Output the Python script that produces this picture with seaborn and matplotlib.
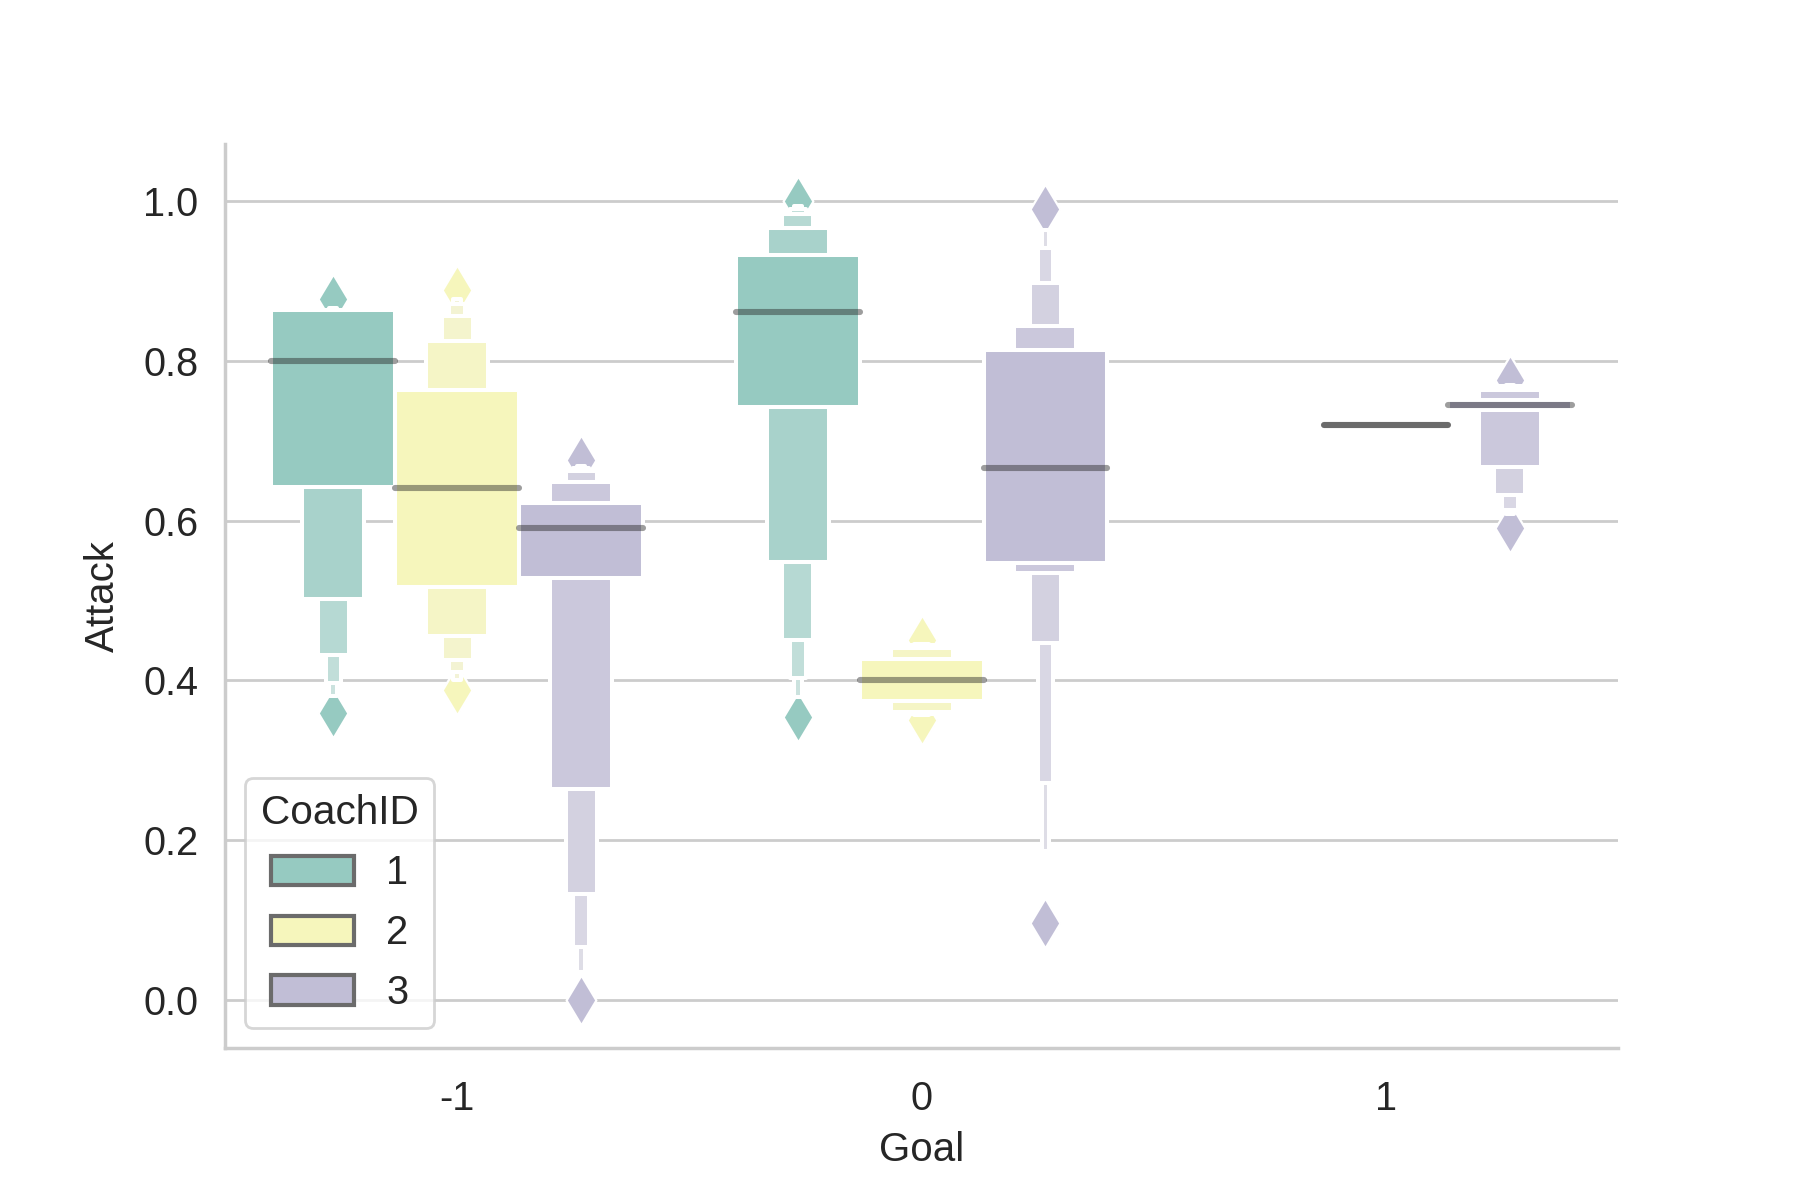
import numpy as np
import pandas as pd
import matplotlib
matplotlib.use("Agg")
import matplotlib.pyplot as plt
import seaborn as sns
from matplotlib.collections import PathCollection

# ---------------- data ----------------
goal_levels = ["-1", "0", "1"]
coach_levels = ["1", "2", "3"]

# Each sample holds 65 observations; rank_counts says how many observations
# share each listed Attack value (sorted from lowest to highest).
rank_counts = [1, 1, 2, 4, 8, 16, 1, 16, 8, 4, 2, 1, 1]

attack_m1_c1 = [0.359, 0.380, 0.397, 0.432, 0.502, 0.642, 0.800,
                0.8636, 0.8637, 0.8638, 0.864, 0.866, 0.878]
attack_m1_c2 = [0.388, 0.400, 0.410, 0.426, 0.456, 0.517, 0.641,
                0.764, 0.825, 0.856, 0.871, 0.878, 0.889]
attack_m1_c3 = [0.000, 0.035, 0.066, 0.133, 0.2645, 0.5285, 0.591,
                0.6225, 0.6485, 0.662, 0.666, 0.668, 0.676]
attack_0_c1 = [0.3546, 0.379, 0.403, 0.451, 0.5486, 0.7424, 0.861,
               0.9327, 0.9663, 0.984, 0.990, 0.994, 1.000]
attack_0_c2 = [0.351, 0.3565, 0.357, 0.358, 0.3605, 0.3745, 0.401,
               0.427, 0.441, 0.444, 0.445, 0.446, 0.451]
attack_0_c3 = [0.0956, 0.186, 0.272, 0.447, 0.5345, 0.5475, 0.6664,
               0.8135, 0.844, 0.8975, 0.942, 0.964, 0.990]
attack_p1_c2 = [0.720]  # a single observation
attack_p1_c3 = [0.5915, 0.609, 0.614, 0.6325, 0.667, 0.739, 0.745,
                0.751, 0.7635, 0.7685, 0.769, 0.770, 0.776]

groups = [
    ("-1", "1", attack_m1_c1), ("-1", "2", attack_m1_c2), ("-1", "3", attack_m1_c3),
    ("0", "1", attack_0_c1), ("0", "2", attack_0_c2), ("0", "3", attack_0_c3),
    ("1", "2", attack_p1_c2), ("1", "3", attack_p1_c3),
]

rows = []
for goal, coach, vals in groups:
    if len(vals) == len(rank_counts):
        obs = np.repeat(vals, rank_counts)
    else:
        obs = np.asarray(vals)
    for v in obs:
        rows.append((goal, coach, float(v)))
df = pd.DataFrame(rows, columns=["Goal", "CoachID", "Attack"])

# ---------------- style ----------------
sns.set_theme(style="whitegrid", context="notebook")
plt.rcParams["font.family"] = ["Liberation Sans", "DejaVu Sans"]
plt.rcParams["xtick.labelsize"] = 14.3
plt.rcParams["ytick.labelsize"] = 14.3
plt.rcParams["axes.labelsize"] = 14.5

fig, ax = plt.subplots(figsize=(9, 6), dpi=200)
fig.subplots_adjust(left=0.125, right=0.899, bottom=0.127, top=0.880)

pal = sns.color_palette("Set3", 3)
sns.boxenplot(
    data=df, x="Goal", y="Attack", hue="CoachID",
    order=goal_levels, hue_order=coach_levels, palette=pal,
    k_depth=5, width_method="exponential",
    linecolor="white", linewidth=1.45,
    line_kws=dict(color=".15", alpha=.45, linewidth=2.2, solid_capstyle="round"),
    flier_kws=dict(marker="d", s=160, linewidth=0.8, edgecolor="white", zorder=0.95),
    ax=ax,
)

# colour the outlier diamonds by their hue
sat_pal = [sns.desaturate(c, 0.75) for c in pal]
for coll in ax.collections:
    if isinstance(coll, PathCollection):
        offs = coll.get_offsets()
        if len(offs) == 0:
            continue
        x = offs[0][0]
        idx = int(round((x - round(x)) / (0.8 / 3))) + 1
        coll.set_facecolor(sat_pal[idx])
        coll.set_edgecolor("white")

# single-observation group: plain dark line
for ln in ax.lines:
    xd = np.asarray(ln.get_xdata(), dtype=float)
    if len(xd) and abs(xd.mean() - 2.0) < 0.05:
        ln.set_color("0.42")
        ln.set_alpha(1.0)

ax.set_ylim(-0.06, 1.072)
ax.set_xlabel("Goal", labelpad=4.7)
ax.set_ylabel("Attack", labelpad=7.6)
ax.tick_params(axis="x", pad=5.6)
sns.despine(ax=ax)

sns.move_legend(ax, "lower left", title="CoachID", frameon=True,
                fontsize=14.3, title_fontsize=14.6,
                handlelength=2.1, handleheight=0.75, handletextpad=0.8,
                labelspacing=0.55)
leg = ax.get_legend()
for h in leg.legend_handles:
    h.set_edgecolor("0.42")
    h.set_linewidth(1.5)

fig.savefig("out.png", dpi=200)
